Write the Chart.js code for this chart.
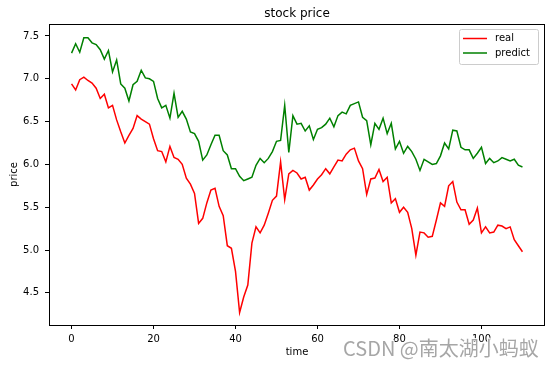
<!DOCTYPE html>
<html>
<head>
<meta charset="utf-8">
<script src="https://cdn.jsdelivr.net/npm/chart.js@4.4.0/dist/chart.umd.min.js"></script>
<style>
  html, body { margin: 0; padding: 0; background: #fff; }
</style>
</head>
<body>
<canvas id="stock-chart" width="551" height="366"></canvas>
<script>
// values, one per time step (0..110)
const real = [
  6.94, 6.87, 6.99, 7.02, 6.98, 6.95, 6.89, 6.77, 6.82, 6.66,
  6.69, 6.52, 6.38, 6.25, 6.34, 6.42, 6.57, 6.53, 6.50, 6.47,
  6.30, 6.16, 6.15, 6.03, 6.21, 6.08, 6.06, 6.00, 5.84, 5.77,
  5.66, 5.31, 5.37, 5.55, 5.70, 5.72, 5.51, 5.40, 5.05, 5.02,
  4.75, 4.27, 4.45, 4.59, 5.08, 5.27, 5.20, 5.29, 5.43, 5.58,
  5.63, 6.03, 5.59, 5.89, 5.93, 5.90, 5.83, 5.85, 5.70, 5.76,
  5.83, 5.88, 5.95, 5.89, 5.97, 6.05, 6.04, 6.12, 6.17, 6.19,
  6.04, 5.95, 5.65, 5.83, 5.84, 5.94, 5.80, 5.85, 5.55, 5.60,
  5.44, 5.50, 5.44, 5.25, 4.94, 5.21, 5.20, 5.15, 5.16, 5.35,
  5.55, 5.51, 5.75, 5.80, 5.56, 5.47, 5.47, 5.30, 5.35, 5.49,
  5.20, 5.27, 5.20, 5.21, 5.29, 5.28, 5.25, 5.27, 5.12, 5.05, 4.98
];
const predict = [
  7.30, 7.41, 7.31, 7.48, 7.48, 7.42, 7.40, 7.34, 7.23, 7.33,
  7.08, 7.22, 6.94, 6.89, 6.74, 6.93, 6.97, 7.10, 7.01, 7.00,
  6.97, 6.77, 6.66, 6.69, 6.54, 6.83, 6.55, 6.62, 6.53, 6.38,
  6.36, 6.27, 6.05, 6.11, 6.23, 6.34, 6.34, 6.16, 6.11, 5.95,
  5.95, 5.86, 5.81, 5.83, 5.85, 5.99, 6.07, 6.02, 6.07, 6.15,
  6.27, 6.28, 6.69, 6.14, 6.57, 6.47, 6.48, 6.39, 6.45, 6.29,
  6.41, 6.43, 6.47, 6.54, 6.44, 6.57, 6.61, 6.59, 6.69, 6.71,
  6.73, 6.55, 6.51, 6.23, 6.48, 6.41, 6.54, 6.36, 6.48, 6.18,
  6.27, 6.13, 6.21, 6.15, 6.06, 5.93, 6.06, 6.03, 6.00, 6.01,
  6.10, 6.25, 6.18, 6.40, 6.39, 6.20, 6.17, 6.17, 6.07, 6.13,
  6.20, 6.01, 6.07, 6.02, 6.04, 6.08, 6.06, 6.04, 6.06, 5.99, 5.97
];
const xTicks = [0, 20, 40, 60, 80, 100];
const yTicks = [4.5, 5.0, 5.5, 6.0, 6.5, 7.0, 7.5];
const seriesNames = ["real", "predict"];
const seriesColors = ["#ff0000", "#008000"];
const titleText = "stock price";
const watermark = "CSDN @南太湖小蚂蚁";

const font = "DejaVu Sans";

// frame, title, legend and watermark drawn in matplotlib style
const extras = {
  id: "extras",
  afterDraw(chart) {
    const c = chart.ctx;
    const a = chart.chartArea;
    c.save();
    c.strokeStyle = "#000";
    c.lineWidth = 1;
    c.strokeRect(a.left + 0.5, a.top + 0.5, a.right - a.left - 1, a.bottom - a.top);

    c.fillStyle = "#000";
    c.font = `12px "${font}"`;
    c.textAlign = "center";
    c.textBaseline = "alphabetic";
    c.fillText(titleText, (a.left + a.right) / 2, 17);

    // legend
    const lx = 459, ly = 29, lw = 79, lh = 35;
    c.fillStyle = "rgba(255,255,255,0.8)";
    c.strokeStyle = "#cccccc";
    c.beginPath();
    c.roundRect(lx + 0.5, ly + 0.5, lw, lh, 2);
    c.fill();
    c.stroke();
    c.font = `10px "${font}"`;
    c.textAlign = "left";
    c.textBaseline = "middle";
    seriesNames.forEach((name, k) => {
      const y = 38.5 + k * 14.5;
      c.strokeStyle = seriesColors[k];
      c.lineWidth = 1.5;
      c.beginPath();
      c.moveTo(463, y);
      c.lineTo(487, y);
      c.stroke();
      c.fillStyle = "#000";
      c.fillText(name, 495, y);
    });

    // watermark
    c.font = `20px "Noto Sans CJK SC"`;
    c.textBaseline = "alphabetic";
    c.lineWidth = 2;
    c.strokeStyle = "rgba(255,255,255,0.9)";
    c.strokeText(watermark, 343, 356);
    c.fillStyle = "rgba(150,150,150,0.85)";
    c.fillText(watermark, 343, 356);
    c.restore();
  }
};

const ctx = document.getElementById("stock-chart");

const myChart = new Chart(ctx, {
  type: "line",
  data: {
    datasets: [
      {
        label: seriesNames[0],
        data: real.map((v, i) => ({ x: i, y: v })),
        borderColor: seriesColors[0],
        borderWidth: 1.5,
        pointRadius: 0,
        tension: 0,
        fill: false,
      },
      {
        label: seriesNames[1],
        data: predict.map((v, i) => ({ x: i, y: v })),
        borderColor: seriesColors[1],
        borderWidth: 1.5,
        pointRadius: 0,
        tension: 0,
        fill: false,
      },
    ],
  },
  options: {
    responsive: false,
    animation: false,
    devicePixelRatio: 1,
    layout: { padding: { left: 0, right: 6, top: 24, bottom: 0 } },
    plugins: {
      legend: { display: false },
      title: { display: false },
      tooltip: { enabled: false },
    },
    scales: {
      x: {
        type: "linear",
        min: -5.5,
        max: 115.5,
        afterBuildTicks: (s) => { s.ticks = xTicks.map((v) => ({ value: v })); },
        afterFit: (s) => { s.height = 41; },
        grid: { drawOnChartArea: false, drawTicks: true, tickLength: 4, tickColor: "#000" },
        border: { display: false },
        ticks: {
          color: "#000",
          font: { family: font, size: 10 },
          padding: 4,
          maxRotation: 0,
          autoSkip: false,
        },
        title: {
          display: true,
          text: "time",
          color: "#000",
          font: { family: font, size: 10 },
          padding: { top: 0, bottom: 8 },
        },
      },
      y: {
        type: "linear",
        min: 4.124,
        max: 7.64,
        afterBuildTicks: (s) => { s.ticks = yTicks.map((v) => ({ value: v })); },
        afterFit: (s) => { s.width = 49; },
        grid: { drawOnChartArea: false, drawTicks: true, tickLength: 4, tickColor: "#000" },
        border: { display: false },
        ticks: {
          color: "#000",
          font: { family: font, size: 10 },
          padding: 6,
          callback: (v) => v.toFixed(1),
        },
        title: {
          display: true,
          text: "price",
          color: "#000",
          font: { family: font, size: 10 },
          padding: { top: 8, bottom: 0 },
        },
      },
    },
  },
  plugins: [extras],
});
</script>
</body>
</html>
